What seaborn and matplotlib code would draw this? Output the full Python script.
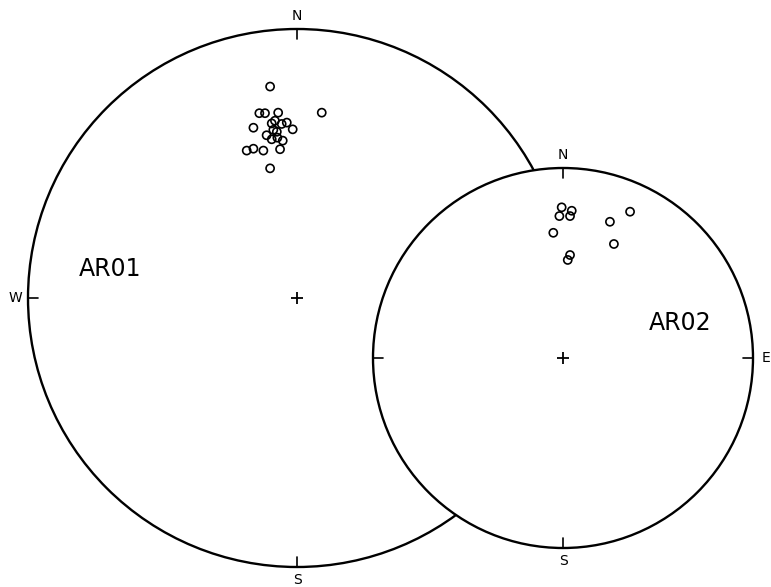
import matplotlib
matplotlib.use("Agg")
import matplotlib.pyplot as plt
import seaborn as sns
import pandas as pd
from matplotlib.patches import Circle

sns.set_theme(style="white")
plt.rcParams['font.family'] = ['DejaVu Sans']

# ---- data (unit-circle net coordinates: east, north) ----
ar01_east = [-0.100, -0.140, -0.119, -0.070, 0.092, -0.162, -0.094, -0.082,
             -0.057, -0.038, -0.016, -0.088, -0.075, -0.113, -0.094, -0.073,
             -0.053, -0.187, -0.162, -0.125, -0.063, -0.100]
ar01_north = [0.786, 0.687, 0.687, 0.689, 0.689, 0.633, 0.649, 0.659,
              0.647, 0.652, 0.627, 0.625, 0.618, 0.605, 0.590, 0.596,
              0.585, 0.548, 0.555, 0.548, 0.553, 0.482]
ar02_east = [-0.007, 0.046, -0.019, 0.037, 0.353, 0.247, -0.051, 0.268, 0.037, 0.025]
ar02_north = [0.793, 0.775, 0.747, 0.747, 0.770, 0.717, 0.659, 0.600, 0.542, 0.516]

net_names = ["AR01", "AR02"]
net1_dir_labels = ["N", "W", "S"]
net2_dir_labels = ["N", "E", "S"]

W, H = 771, 587
fig = plt.figure(figsize=(W / 100, H / 100), dpi=100)
fig.patch.set_facecolor("white")


def net_axes(cx, cy, r, z):
    ax = fig.add_axes([(cx - r) / W, (H - cy - r) / H, 2 * r / W, 2 * r / H], zorder=z)
    ax.set_xlim(-1, 1)
    ax.set_ylim(-1, 1)
    ax.set_aspect("equal")
    ax.axis("off")
    ax.patch.set_alpha(0)
    return ax


dir_vec = {"N": (0, 1), "S": (0, -1), "E": (1, 0), "W": (-1, 0)}


def draw_net(ax, r_px, east, north, name, name_pos, dir_labels):
    ax.add_patch(Circle((0, 0), 1, facecolor="white", edgecolor="black",
                        lw=1.7, zorder=1, clip_on=False))
    tick = 10 / r_px
    off = 13 / r_px
    for d, (dx, dy) in dir_vec.items():
        ax.plot([dx, dx * (1 - tick)], [dy, dy * (1 - tick)], color="black",
                lw=1.2, zorder=2, clip_on=False)
        if d in dir_labels:
            ax.text(dx * (1 + off), dy * (1 + off), d, ha="center", va="center",
                    fontsize=10, color="black", clip_on=False)
    ax.plot([0], [0], marker="+", markersize=9, mew=1.3, color="black", zorder=2)
    df = pd.DataFrame({"east": east, "north": north})
    sns.scatterplot(data=df, x="east", y="north", ax=ax, s=34, marker="o",
                    facecolors="none", edgecolor="black", linewidth=1.2,
                    zorder=3, legend=False)
    ax.set_xlim(-1, 1)
    ax.set_ylim(-1, 1)
    ax.set_xlabel("")
    ax.set_ylabel("")
    ax.text(name_pos[0], name_pos[1], name, ha="center", va="center",
            fontsize=17, color="black")


ax1 = net_axes(297, 298, 269, 1)
draw_net(ax1, 269, ar01_east, ar01_north, net_names[0], (-0.695, 0.108), net1_dir_labels)

ax2 = net_axes(563, 358, 190, 2)
draw_net(ax2, 190, ar02_east, ar02_north, net_names[1], (0.616, 0.184), net2_dir_labels)

fig.savefig("out.png", dpi=100, facecolor="white")
